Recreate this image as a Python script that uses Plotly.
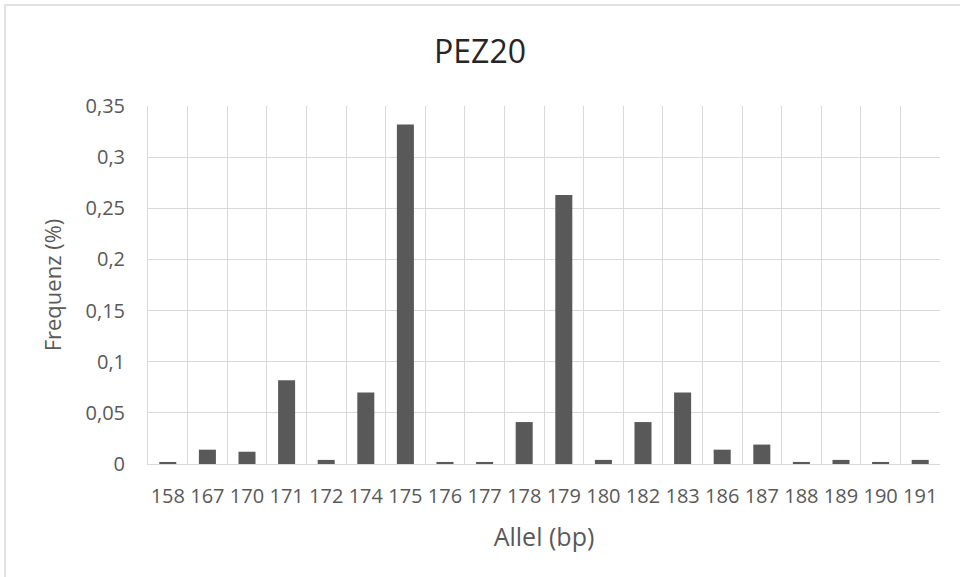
import plotly.graph_objects as go

alleles = ["158", "167", "170", "171", "172", "174", "175", "176", "177", "178",
           "179", "180", "182", "183", "186", "187", "188", "189", "190", "191"]
freq = [0.002, 0.014, 0.012, 0.082, 0.004, 0.070, 0.332, 0.002, 0.002, 0.041,
        0.263, 0.004, 0.041, 0.070, 0.014, 0.019, 0.002, 0.004, 0.002, 0.004]

font_family = "Open Sans, Noto Sans, sans-serif"
txt = "#595959"

fig = go.Figure(go.Bar(x=alleles, y=freq, marker=dict(color="#595959", line=dict(width=0)),
                       width=0.43))

fig.update_layout(
    width=960, height=577,
    paper_bgcolor="white", plot_bgcolor="white",
    separators=",.",
    margin=dict(l=148, r=20, t=106, b=113),
    title=dict(text="PEZ20", x=0.5, xanchor="center", y=1 - 52 / 577, yanchor="middle",
               font=dict(family=font_family, size=32, color="#262626", weight=400)),
    font=dict(family=font_family, color=txt, weight=400),
    showlegend=False,
    xaxis=dict(type="category", tickson="boundaries", showgrid=True, gridcolor="#d9d9d9",
               gridwidth=1, showline=True, linecolor="#d9d9d9", ticks="",
               tickfont=dict(size=20, color=txt, weight=400), tickangle=0, ticklabelstandoff=14,
               title=dict(text="Allel (bp)", font=dict(size=25, color=txt, weight=400), standoff=20)),
    yaxis=dict(range=[0, 0.35], dtick=0.05, showgrid=True, gridcolor="#d9d9d9",
               showline=True, linecolor="#d9d9d9", zeroline=False, ticks="",
               tickfont=dict(size=20, color=txt, weight=400), ticklabelstandoff=18,
               title=dict(text="Frequenz (%)", font=dict(size=22, color=txt, weight=400), standoff=17)),
    shapes=[dict(type="rect", xref="paper", yref="paper",
                 x0=(5 - 148) / 792, x1=(962 - 148) / 792,
                 y0=-(590 - 464) / 358, y1=1 + (106 - 5) / 358,
                 line=dict(color="#d9d9d9", width=1.5), layer="below")],
)

fig.write_html("out.html", config={"displayModeBar": False},
               post_script="document.body.style.margin='0px';")
